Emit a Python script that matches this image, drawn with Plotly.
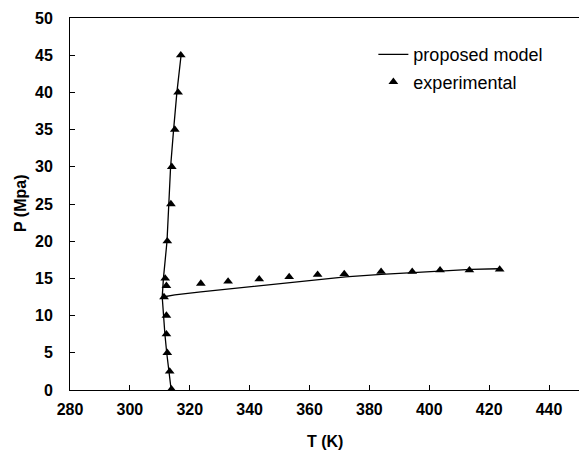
import plotly.graph_objects as go

# Model curve: vertical (liquid-side) branch
model_v_T = [313.8, 313.0, 312.3, 311.7, 311.2, 310.8, 311.2, 311.8, 312.4, 313.0, 313.6, 314.6, 315.7, 317.1]
model_v_P = [0.0, 2.5, 5.0, 7.5, 10.0, 12.5, 15.0, 17.5, 20.0, 25.0, 30.0, 35.0, 40.0, 45.0]

# Model curve: horizontal branch
model_h_T = [311.0, 315.0, 323.7, 333.0, 343.0, 353.0, 363.0, 372.0, 384.0, 394.0, 404.0, 414.0, 423.0]
model_h_P = [12.5, 12.8, 13.2, 13.6, 14.0, 14.45, 14.85, 15.2, 15.55, 15.8, 16.0, 16.2, 16.3]

# Experimental points
exp_v_T = [313.9, 313.3, 312.5, 312.2, 312.2, 311.4, 312.2, 311.8, 312.5, 313.7, 314.0, 315.0, 316.1, 317.0]
exp_v_P = [0.1, 2.5, 5.0, 7.5, 10.0, 12.5, 14.0, 15.0, 20.0, 25.0, 30.0, 35.0, 40.0, 45.0]
exp_h_T = [323.7, 332.8, 343.2, 353.2, 362.7, 371.6, 383.9, 394.3, 403.6, 413.4, 423.5]
exp_h_P = [14.3, 14.6, 14.9, 15.2, 15.5, 15.6, 15.9, 15.9, 16.1, 16.1, 16.2]

x_ticks = [280, 300, 320, 340, 360, 380, 400, 420, 440]
y_ticks = [0, 5, 10, 15, 20, 25, 30, 35, 40, 45, 50]

FONT = "Liberation Sans, Arial, sans-serif"

fig = go.Figure()
fig.add_trace(go.Scatter(x=model_v_T, y=model_v_P, mode="lines", name="proposed model",
                         line=dict(color="black", width=1.3), legendgroup="a"))
fig.add_trace(go.Scatter(x=model_h_T, y=model_h_P, mode="lines", showlegend=False,
                         line=dict(color="black", width=1.3), legendgroup="a"))
fig.add_trace(go.Scatter(x=exp_v_T + exp_h_T, y=exp_v_P + exp_h_P, mode="markers",
                         name="experimental", legendgroup="b",
                         marker=dict(symbol="triangle-up", size=8.5, color="black")))

fig.update_layout(
    width=579, height=454,
    margin=dict(l=70, r=0, t=18, b=64),
    paper_bgcolor="white", plot_bgcolor="white",
    showlegend=True,
    legend=dict(x=0.596, y=0.951, xanchor="left", yanchor="top",
                bgcolor="rgba(0,0,0,0)", font=dict(family=FONT, size=18, color="black"),
                tracegroupgap=1),
    xaxis=dict(range=[280, 450], tickvals=x_ticks,
               ticktext=["<b>%d</b>" % v for v in x_ticks],
               ticks="inside", ticklen=5, ticklabelstandoff=5,
               tickcolor="black", showline=True, linecolor="black", linewidth=1,
               mirror=True, showgrid=False, zeroline=False,
               tickfont=dict(family=FONT, size=16, color="black")),
    yaxis=dict(range=[0, 50], tickvals=y_ticks,
               ticktext=["<b>%d</b>" % v for v in y_ticks],
               ticks="inside", ticklen=5,
               tickcolor="black", showline=True, linecolor="black", linewidth=1,
               showgrid=False, zeroline=False, ticklabelstandoff=13,
               tickfont=dict(family=FONT, size=16, color="black")),
    annotations=[
        dict(text="<b>T (K)</b>", xref="paper", yref="paper", x=0.5, y=(390 - 441) / 372,
             showarrow=False, xanchor="center", yanchor="middle",
             font=dict(family=FONT, size=16, color="black")),
        dict(text="<b>P (Mpa)</b>", xref="paper", yref="paper", x=(20 - 70) / 509, y=0.5,
             showarrow=False, xanchor="center", yanchor="middle", textangle=-90,
             font=dict(family=FONT, size=16, color="black")),
    ],
)

fig.write_html("out.html")
